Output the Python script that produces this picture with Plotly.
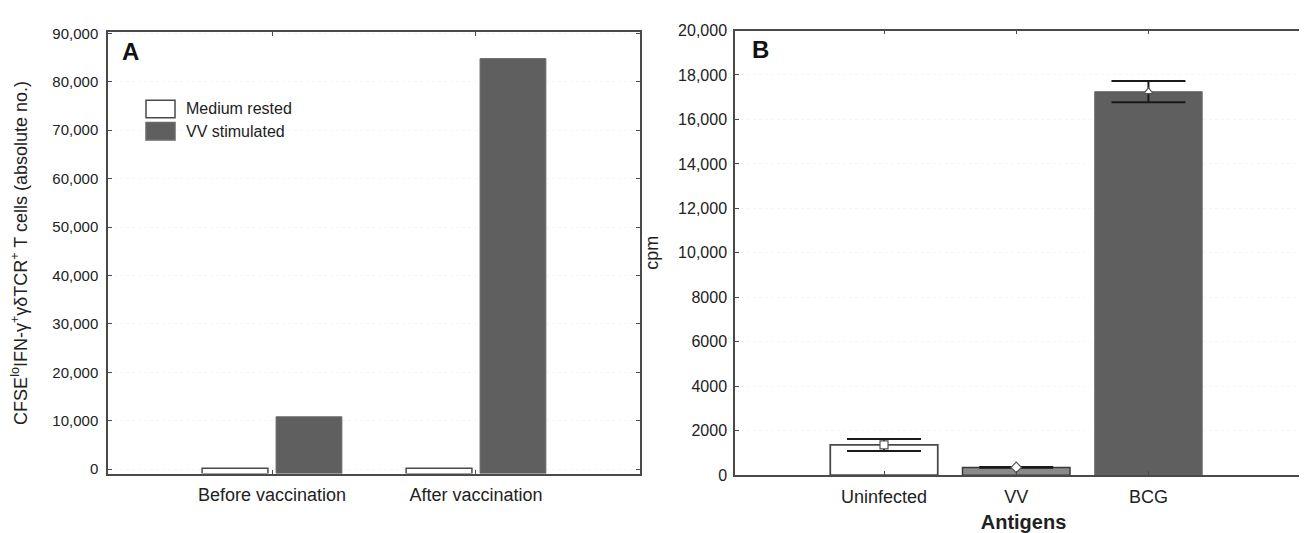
import plotly.graph_objects as go

# ---------------- data ----------------
# Panel A
groups_a = ["Before vaccination", "After vaccination"]
series_a = ["Medium rested", "VV stimulated"]
medium_rested = [150, 150]
vv_stimulated = [10800, 84800]
ytick_vals_a = [0, 10000, 20000, 30000, 40000, 50000, 60000, 70000, 80000, 90000]
ytick_text_a = ["0", "10,000", "20,000", "30,000", "40,000", "50,000",
                "60,000", "70,000", "80,000", "90,000"]

# Panel B
antigens = ["Uninfected", "VV", "BCG"]
cpm_mean = [1360, 350, 17250]
cpm_err = [270, 20, 480]
ytick_vals_b = [0, 2000, 4000, 6000, 8000, 10000, 12000, 14000, 16000, 18000, 20000]
ytick_text_b = ["0", "2000", "4000", "6000", "8000", "10,000", "12,000",
                "14,000", "16,000", "18,000", "20,000"]

# ---------------- style ----------------
FONT = "Liberation Sans, Arial, sans-serif"
TXT = "#222222"
AXC = "#4a4a4a"
DARK = "#5f5f5f"
W, H = 1307, 533
Y_MIN_A = -940
Y_MAX_A = 90260

def px_x(p):
    return p / W

def px_y(p):
    return 1 - p / H

fig = go.Figure()

# Panel A bars (drawn from the axis floor, as in the original)
fig.add_trace(go.Bar(
    x=groups_a, y=[v - Y_MIN_A for v in medium_rested], base=Y_MIN_A,
    name=series_a[0], marker=dict(color="white", line=dict(color=AXC, width=1.5)),
    xaxis="x", yaxis="y", showlegend=False,
))
fig.add_trace(go.Bar(
    x=groups_a, y=[v - Y_MIN_A for v in vv_stimulated], base=Y_MIN_A,
    name=series_a[1], marker=dict(color=DARK, line=dict(color="#6a6a6a", width=1)),
    xaxis="x", yaxis="y", showlegend=False,
))

# Panel B bars with error bars
fig.add_trace(go.Bar(
    x=antigens, y=cpm_mean, width=0.813, offsetgroup="b",
    marker=dict(color=["white", "#8a8a8a", DARK],
                line=dict(color=[AXC, "#3a3a3a", "#6a6a6a"], width=[1.8, 1.5, 1])),
    error_y=dict(type="data", array=cpm_err, visible=True,
                 color="#1a1a1a", thickness=2, width=37),
    xaxis="x2", yaxis="y2", showlegend=False,
))
fig.add_trace(go.Scatter(
    x=antigens, y=cpm_mean, mode="markers",
    marker=dict(symbol=["square", "diamond", "triangle-up"], size=8,
                color="white", line=dict(color="#555555", width=1.2)),
    xaxis="x2", yaxis="y2", showlegend=False,
))

axis_common = dict(
    showline=True, linecolor=AXC, linewidth=1.5, mirror="ticks",
    ticks="inside", ticklen=4, tickcolor=AXC, tickwidth=1.2,
    zeroline=False,
)

fig.update_layout(
    width=W, height=H,
    margin=dict(l=0, r=0, t=0, b=0),
    paper_bgcolor="white", plot_bgcolor="white",
    font=dict(family=FONT, color=TXT),
    barmode="group", bargap=0.275, bargroupgap=0.11,
    xaxis=dict(
        domain=[px_x(100), px_x(632)], anchor="y",
        type="category", range=[-0.804, 1.804],
        tickfont=dict(size=18, color=TXT), showgrid=False,
        ticklabelstandoff=4,
        **axis_common,
    ),
    yaxis=dict(
        domain=[px_y(472.7), px_y(16.7)], anchor="x",
        range=[Y_MIN_A, Y_MAX_A],
        tickvals=ytick_vals_a, ticktext=ytick_text_a,
        tickfont=dict(size=15, color=TXT), ticklabelstandoff=5,
        showgrid=True, gridcolor="#f6f6f6", griddash="dot", gridwidth=1,
        title=dict(text="CFSE<sup>lo</sup>IFN-γ<sup>+</sup>γδTCR<sup>+</sup> T cells (absolute no.)",
                   font=dict(size=18, color=TXT), standoff=24),
        **axis_common,
    ),
    xaxis2=dict(
        domain=[px_x(727), px_x(1304)], anchor="y2",
        type="category", range=[-1.127, 3.237],
        tickfont=dict(size=18, color=TXT), showgrid=False,
        ticklabelstandoff=4,
        title=dict(text="<b>Antigens</b>", font=dict(size=20, color=TXT), standoff=9),
        **axis_common,
    ),
    yaxis2=dict(
        domain=[px_y(474.3), px_y(15)], anchor="x2",
        range=[0, 20000],
        tickvals=ytick_vals_b, ticktext=ytick_text_b,
        tickfont=dict(size=16, color=TXT), ticklabelstandoff=3,
        showgrid=True, gridcolor="#f6f6f6", griddash="dot", gridwidth=1,
        title=dict(text="cpm", font=dict(size=18, color=TXT), standoff=15),
        **axis_common,
    ),
)

# Panel letters
fig.add_annotation(text="<b>A</b>", xref="x domain", yref="y domain", x=0.022, y=0.9566,
                   xanchor="left", yanchor="middle", showarrow=False,
                   font=dict(size=24, color="#111111"))
fig.add_annotation(text="<b>B</b>", xref="x2 domain", yref="y2 domain", x=0.026, y=0.9565,
                   xanchor="left", yanchor="middle", showarrow=False,
                   font=dict(size=24, color="#111111"))

# Legend for panel A (boxes and labels)
leg_fill = ["white", DARK]
leg_line = [AXC, "#6a6a6a"]
leg_rows = [(87, 105), (110, 128)]
for i, name in enumerate(series_a):
    top, bot = leg_rows[i]
    fig.add_shape(type="rect", xref="x domain", yref="y domain",
                  x0=(138 - 100) / 532, x1=(167 - 100) / 532,
                  y0=(472.7 - bot) / 456, y1=(472.7 - top) / 456,
                  fillcolor=leg_fill[i], line=dict(color=leg_line[i], width=1.5))
    fig.add_annotation(text=name, xref="x domain", yref="y domain",
                       x=(176 - 100) / 532, y=(472.7 - (top + bot) / 2) / 456,
                       xanchor="left", yanchor="middle", showarrow=False,
                       font=dict(size=16, color=TXT))

fig.write_html("out.html")
